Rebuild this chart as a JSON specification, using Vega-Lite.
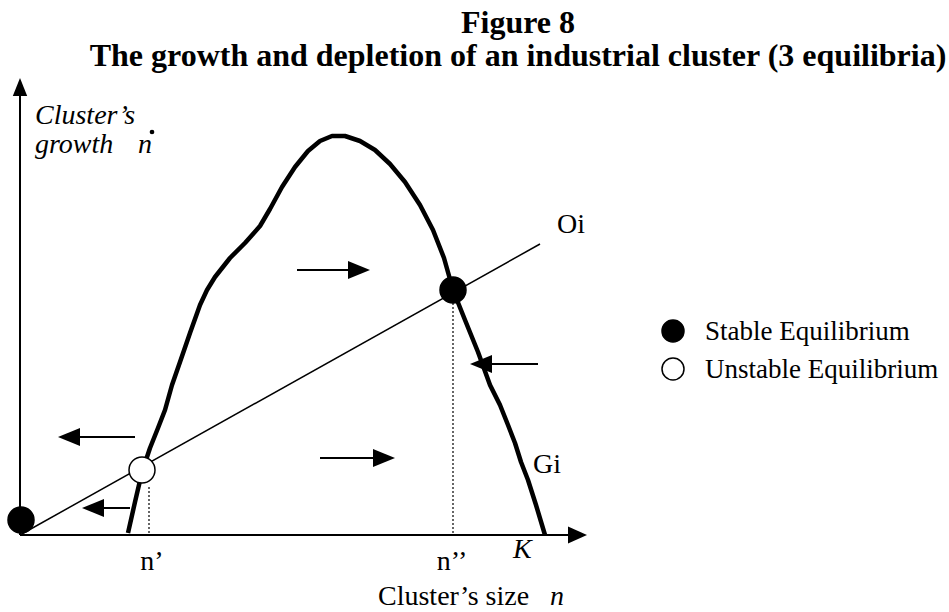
{
  "$schema": "https://vega.github.io/schema/vega-lite/v6.json",
  "width": 949,
  "height": 612,
  "autosize": {"type": "none"},
  "padding": 0,
  "background": "white",
  "config": {"view": {"stroke": null}},
  "encoding": {
    "x": {"type": "quantitative", "scale": {"domain": [-20, 929], "nice": false, "zero": false}, "axis": null},
    "y": {"type": "quantitative", "scale": {"domain": [-77, 535], "nice": false, "zero": false}, "axis": null}
  },
  "layer": [
    {
      "data": {"values": [
        {"x": 0, "y": 0, "x2": 0, "y2": 442},
        {"x": 0, "y": 0, "x2": 550, "y2": 0}
      ]},
      "mark": {"type": "rule", "color": "black", "strokeWidth": 2},
      "encoding": {"x": {"field": "x"}, "y": {"field": "y"}, "x2": {"field": "x2"}, "y2": {"field": "y2"}}
    },
    {
      "data": {"values": [{"x": 0, "y": 0, "x2": 520, "y2": 291}]},
      "mark": {"type": "rule", "color": "black", "strokeWidth": 1.5},
      "encoding": {"x": {"field": "x"}, "y": {"field": "y"}, "x2": {"field": "x2"}, "y2": {"field": "y2"}}
    },
    {
      "data": {"values": [
        {"x": 129, "y": 48, "x2": 129, "y2": 0},
        {"x": 433, "y": 232, "x2": 433, "y2": 0}
      ]},
      "mark": {"type": "rule", "color": "black", "strokeWidth": 1.2, "strokeDash": [2, 2]},
      "encoding": {"x": {"field": "x"}, "y": {"field": "y"}, "x2": {"field": "x2"}, "y2": {"field": "y2"}}
    },
    {
      "data": {"values": [
        {"i": 1, "x": 108, "y": 2}, {"i": 2, "x": 115, "y": 33}, {"i": 3, "x": 122, "y": 63},
        {"i": 4, "x": 130, "y": 87}, {"i": 5, "x": 138, "y": 107}, {"i": 6, "x": 145, "y": 125},
        {"i": 7, "x": 152, "y": 150}, {"i": 8, "x": 160, "y": 173}, {"i": 9, "x": 170, "y": 202},
        {"i": 10, "x": 180, "y": 230}, {"i": 11, "x": 187, "y": 245}, {"i": 12, "x": 195, "y": 258},
        {"i": 13, "x": 210, "y": 277}, {"i": 14, "x": 225, "y": 292}, {"i": 15, "x": 240, "y": 309},
        {"i": 16, "x": 250, "y": 326}, {"i": 17, "x": 262, "y": 348}, {"i": 18, "x": 275, "y": 368},
        {"i": 19, "x": 288, "y": 384}, {"i": 20, "x": 300, "y": 394}, {"i": 21, "x": 312, "y": 399},
        {"i": 22, "x": 325, "y": 399}, {"i": 23, "x": 340, "y": 394}, {"i": 24, "x": 355, "y": 385},
        {"i": 25, "x": 370, "y": 371}, {"i": 26, "x": 385, "y": 353}, {"i": 27, "x": 400, "y": 330},
        {"i": 28, "x": 413, "y": 305}, {"i": 29, "x": 424, "y": 277}, {"i": 30, "x": 433, "y": 245},
        {"i": 31, "x": 445, "y": 215}, {"i": 32, "x": 458, "y": 183}, {"i": 33, "x": 470, "y": 150},
        {"i": 34, "x": 480, "y": 130}, {"i": 35, "x": 488, "y": 110}, {"i": 36, "x": 495, "y": 92},
        {"i": 37, "x": 501, "y": 73}, {"i": 38, "x": 508, "y": 55}, {"i": 39, "x": 516, "y": 30},
        {"i": 40, "x": 525, "y": 0}
      ]},
      "mark": {"type": "line", "color": "black", "strokeWidth": 4.5, "strokeJoin": "round"},
      "encoding": {"x": {"field": "x"}, "y": {"field": "y"}, "order": {"field": "i"}}
    },
    {
      "data": {"values": [
        {"x": 115, "y": 98, "x2": 52, "y2": 98},
        {"x": 110, "y": 27, "x2": 75, "y2": 27},
        {"x": 277, "y": 265, "x2": 335, "y2": 265},
        {"x": 300, "y": 77, "x2": 360, "y2": 77},
        {"x": 518, "y": 171, "x2": 465, "y2": 171}
      ]},
      "mark": {"type": "rule", "color": "black", "strokeWidth": 2},
      "encoding": {"x": {"field": "x"}, "y": {"field": "y"}, "x2": {"field": "x2"}, "y2": {"field": "y2"}}
    },
    {
      "data": {"values": [
        {"x": 38, "y": 98},
        {"x": 62, "y": 27},
        {"x": 450, "y": 171}
      ]},
      "mark": {"type": "point", "shape": "M0,0L2,-0.82L2,0.82Z", "filled": true, "color": "black", "opacity": 1, "size": 484, "strokeWidth": 0},
      "encoding": {"x": {"field": "x"}, "y": {"field": "y"}}
    },
    {
      "data": {"values": [
        {"x": 350, "y": 265},
        {"x": 375, "y": 77}
      ]},
      "mark": {"type": "point", "shape": "M0,0L-2,-0.82L-2,0.82Z", "filled": true, "color": "black", "opacity": 1, "size": 484, "strokeWidth": 0},
      "encoding": {"x": {"field": "x"}, "y": {"field": "y"}}
    },
    {
      "data": {"values": [{"x": 0, "y": 457}]},
      "mark": {"type": "point", "shape": "M0,0L-0.8,2L0.8,2Z", "filled": true, "color": "black", "opacity": 1, "size": 324, "strokeWidth": 0},
      "encoding": {"x": {"field": "x"}, "y": {"field": "y"}}
    },
    {
      "data": {"values": [{"x": 567, "y": 0}]},
      "mark": {"type": "point", "shape": "M0,0L-2,-0.9L-2,0.9Z", "filled": true, "color": "black", "opacity": 1, "size": 361, "strokeWidth": 0},
      "encoding": {"x": {"field": "x"}, "y": {"field": "y"}}
    },
    {
      "data": {"values": [
        {"x": 1, "y": 15, "kind": "stable"},
        {"x": 433, "y": 245, "kind": "stable"},
        {"x": 122, "y": 65, "kind": "unstable"}
      ]},
      "mark": {"type": "point", "shape": "circle", "size": 676, "opacity": 1, "stroke": "black", "strokeWidth": 1.5},
      "encoding": {
        "x": {"field": "x"}, "y": {"field": "y"},
        "fill": {"field": "kind", "type": "nominal", "legend": null, "scale": {"domain": ["stable", "unstable"], "range": ["black", "white"]}}
      }
    },
    {
      "data": {"values": [
        {"x": 653, "y": 204, "kind": "stable"},
        {"x": 653, "y": 166, "kind": "unstable"}
      ]},
      "mark": {"type": "point", "shape": "circle", "size": 484, "opacity": 1, "stroke": "black", "strokeWidth": 1.5},
      "encoding": {
        "x": {"field": "x"}, "y": {"field": "y"},
        "fill": {"field": "kind", "type": "nominal", "legend": null, "scale": {"domain": ["stable", "unstable"], "range": ["black", "white"]}}
      }
    },
    {
      "data": {"values": [{"x": 132, "y": 403}]},
      "mark": {"type": "point", "shape": "circle", "size": 22, "filled": true, "color": "black", "opacity": 1, "strokeWidth": 0},
      "encoding": {"x": {"field": "x"}, "y": {"field": "y"}}
    },
    {
      "data": {"values": [
        {"x": 498, "y": 502, "label": "Figure 8"},
        {"x": 498, "y": 469, "label": "The growth and depletion of an industrial cluster (3 equilibria)"}
      ]},
      "mark": {"type": "text", "font": "Liberation Serif", "fontSize": 32, "fontWeight": "bold", "align": "center", "baseline": "alphabetic", "color": "black"},
      "encoding": {"x": {"field": "x"}, "y": {"field": "y"}, "text": {"field": "label"}}
    },
    {
      "data": {"values": [
        {"x": 15, "y": 411, "label": "Cluster’s"},
        {"x": 15, "y": 382, "label": "growth"},
        {"x": 118, "y": 382, "label": "n"},
        {"x": 493, "y": -23, "label": "K"},
        {"x": 530, "y": -70, "label": "n"}
      ]},
      "mark": {"type": "text", "font": "Liberation Serif", "fontSize": 28, "fontStyle": "italic", "align": "left", "baseline": "alphabetic", "color": "black"},
      "encoding": {"x": {"field": "x"}, "y": {"field": "y"}, "text": {"field": "label"}}
    },
    {
      "data": {"values": [
        {"x": 358, "y": -70, "label": "Cluster’s size"},
        {"x": 537, "y": 302, "label": "Oi"},
        {"x": 513, "y": 62, "label": "Gi"}
      ]},
      "mark": {"type": "text", "font": "Liberation Serif", "fontSize": 28, "align": "left", "baseline": "alphabetic", "color": "black"},
      "encoding": {"x": {"field": "x"}, "y": {"field": "y"}, "text": {"field": "label"}}
    },
    {
      "data": {"values": [
        {"x": 685, "y": 195, "label": "Stable Equilibrium"},
        {"x": 685, "y": 157, "label": "Unstable Equilibrium"}
      ]},
      "mark": {"type": "text", "font": "Liberation Serif", "fontSize": 27, "align": "left", "baseline": "alphabetic", "color": "black"},
      "encoding": {"x": {"field": "x"}, "y": {"field": "y"}, "text": {"field": "label"}}
    },
    {
      "data": {"values": [
        {"x": 132, "y": -35, "label": "n’"},
        {"x": 432, "y": -35, "label": "n’’"}
      ]},
      "mark": {"type": "text", "font": "Liberation Serif", "fontSize": 28, "align": "center", "baseline": "alphabetic", "color": "black"},
      "encoding": {"x": {"field": "x"}, "y": {"field": "y"}, "text": {"field": "label"}}
    }
  ]
}
